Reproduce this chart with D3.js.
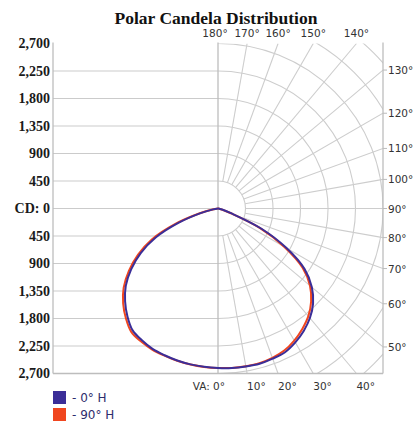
<!DOCTYPE html>
<html>
<head>
<meta charset="utf-8">
<script src="https://cdn.jsdelivr.net/npm/d3@7"></script>
<style>
  html, body { margin: 0; padding: 0; background: #fff; }
  svg { display: block; }
</style>
</head>
<body>
<svg id="chart" width="416" height="423"></svg>
<script>
// Vertical angles (deg): negative = left half of the plane, positive = right half
const verticalAngles = [-90, -85, -80, -75, -70, -65, -60, -55, -50, -45, -40, -35, -30, -25, -20, -15, -10, -5,
  0, 5, 10, 15, 20, 25, 30, 35, 40, 45, 50, 55, 60, 65, 70, 75, 80, 85, 90];

// Candela values for each horizontal plane
const candela0H = [0, 0, 80, 295, 690, 1125, 1460, 1735, 1970, 2150, 2305, 2435, 2490, 2535, 2555, 2575, 2590, 2600,
  2610, 2620, 2625, 2630, 2615, 2595, 2530, 2445, 2340, 2200, 2005, 1730, 1295, 785, 225, 80, 20, 5, 0];
const candela90H = [0, 0, 90, 320, 750, 1190, 1510, 1780, 2015, 2195, 2345, 2470, 2515, 2548, 2562, 2580, 2592, 2602,
  2610, 2618, 2620, 2620, 2600, 2565, 2495, 2405, 2300, 2155, 1965, 1690, 1250, 760, 215, 75, 20, 5, 0];

const seriesNames = ["- 0\u00B0 H", "- 90\u00B0 H"];
const seriesColors = ["#3b2e98", "#f0461f"];

// Candela axis levels and polar grid angles
const candelaLevels = [0, 450, 900, 1350, 1800, 2250, 2700];
const gridAngles = [10, 20, 30, 40, 50, 60, 70, 80, 90, 100, 110, 120, 130, 140, 150, 160, 170];

const svg = d3.select("#chart");

const cx = 218, cy = 208.5;
const R = 165;
const plotL = cx - R, plotR = cx + R, plotT = cy - R, plotB = cy + R;

const r = d3.scaleLinear().domain([0, 2700]).range([0, R]);
const fmt = d3.format(",");

// Title
svg.append("text")
  .attr("x", 216).attr("y", 24)
  .attr("text-anchor", "middle")
  .style("font-family", "'Liberation Serif', serif")
  .style("font-weight", "bold")
  .style("font-size", "17.5px")
  .attr("fill", "#111")
  .text("Polar Candela Distribution");

// Left half: horizontal candela grid lines and labels
const cdRows = [];
candelaLevels.forEach(v => {
  if (v === 0) cdRows.push({ v, y: cy, label: "CD: 0" });
  else {
    cdRows.push({ v, y: cy - r(v), label: fmt(v) });
    cdRows.push({ v, y: cy + r(v), label: fmt(v) });
  }
});

svg.append("g").selectAll("line")
  .data(cdRows.filter(d => d.y > plotT + 1))
  .join("line")
  .attr("x1", plotL).attr("x2", cx)
  .attr("y1", d => d.y).attr("y2", d => d.y)
  .attr("stroke", "#cbcbcb").attr("stroke-width", 1.2);

svg.append("g").selectAll("text")
  .data(cdRows)
  .join("text")
  .attr("x", 50).attr("y", d => d.y + 4.5)
  .attr("text-anchor", "end")
  .style("font-family", "'Liberation Serif', serif")
  .style("font-weight", "bold")
  .style("font-size", "14px")
  .attr("fill", "#1a1a1a")
  .text(d => d.label);

// Right half: polar grid clipped to the plot square
svg.append("defs").append("clipPath").attr("id", "plotClip")
  .append("rect").attr("x", cx).attr("y", plotT).attr("width", plotR - cx).attr("height", plotB - plotT);

const polar = svg.append("g").attr("clip-path", "url(#plotClip)");

const arcLevels = [450, 900, 1350, 1800, 2250, 2700, 3150, 3600];
const arcGen = d3.arc().startAngle(0).endAngle(Math.PI);
polar.selectAll("path.arc")
  .data(arcLevels)
  .join("path")
  .attr("class", "arc")
  .attr("transform", `translate(${cx},${cy})`)
  .attr("d", v => arcGen({ innerRadius: r(v), outerRadius: r(v) }))
  .attr("fill", "none")
  .attr("stroke", "#cdcdcd").attr("stroke-width", 1.1);

// Where a ray from the centre leaves the plot square
function rayEnd(deg) {
  const a = deg * Math.PI / 180;
  const sx = Math.sin(a), sy = Math.cos(a);
  let t = (plotR - cx) / sx;
  if (sy > 1e-9) t = Math.min(t, (plotB - cy) / sy);
  if (sy < -1e-9) t = Math.min(t, (cy - plotT) / -sy);
  return { x: cx + t * sx, y: cy + t * sy, sx, sy };
}

const r0 = r(450);
polar.selectAll("line.ray")
  .data(gridAngles)
  .join("line")
  .attr("class", "ray")
  .attr("x1", d => cx + r0 * Math.sin(d * Math.PI / 180))
  .attr("y1", d => cy + r0 * Math.cos(d * Math.PI / 180))
  .attr("x2", d => rayEnd(d).x)
  .attr("y2", d => rayEnd(d).y)
  .attr("stroke", "#cdcdcd").attr("stroke-width", 1.1);

// Frame: left edge, centre axis, right edge, bottom edge
const frame = svg.append("g").attr("stroke", "#bdbdbd").attr("stroke-width", 1.3);
frame.append("line").attr("x1", plotL).attr("x2", plotL).attr("y1", plotT - 1).attr("y2", plotB);
frame.append("line").attr("x1", cx).attr("x2", cx).attr("y1", plotT - 1).attr("y2", plotB);
frame.append("line").attr("x1", plotR).attr("x2", plotR).attr("y1", plotT - 1).attr("y2", plotB);
frame.append("line").attr("x1", plotL).attr("x2", plotR).attr("y1", plotB).attr("y2", plotB);

// Angle labels around the polar half
const angleStyle = sel => sel
  .style("font-family", "'DejaVu Sans', sans-serif")
  .style("font-size", "10.5px")
  .attr("fill", "#333");

gridAngles.forEach(deg => {
  const e = rayEnd(deg);
  const label = deg + "\u00B0";
  if (Math.abs(e.x - plotR) < 0.5) {
    svg.append("line").attr("x1", plotR).attr("x2", plotR + 4)
      .attr("y1", e.y).attr("y2", e.y).attr("stroke", "#bbb");
    svg.append("text").attr("x", plotR + 5).attr("y", e.y + 4).text(label).call(angleStyle);
  } else if (e.y > cy) {
    svg.append("text").attr("x", e.x).attr("y", plotB + 16).text(label).call(angleStyle);
  } else {
    svg.append("text").attr("x", e.x).attr("y", plotT - 7)
      .attr("text-anchor", "middle").text(label).call(angleStyle);
  }
});
svg.append("text").attr("x", cx - 3).attr("y", plotT - 7)
  .attr("text-anchor", "middle").text("180\u00B0").call(angleStyle);
svg.append("text").attr("x", cx + 7).attr("y", plotB + 16)
  .attr("text-anchor", "end").text("VA: 0\u00B0").call(angleStyle);

// Candela curves
const radial = d3.lineRadial()
  .angle(d => Math.PI - d.va * Math.PI / 180)
  .radius(d => r(d.cd))
  .curve(d3.curveCatmullRom.alpha(0.5));

const series = [candela0H, candela90H].map((vals, i) => ({
  name: seriesNames[i],
  color: seriesColors[i],
  points: verticalAngles.map((va, j) => ({ va, cd: vals[j] }))
}));

svg.append("g").attr("transform", `translate(${cx},${cy})`)
  .selectAll("path")
  .data(series.slice().reverse())
  .join("path")
  .attr("d", d => radial(d.points))
  .attr("fill", "none")
  .attr("stroke", d => d.color)
  .attr("stroke-width", 2)
  .attr("stroke-linejoin", "round");

// Legend
const legend = svg.append("g").selectAll("g")
  .data(series)
  .join("g")
  .attr("transform", (d, i) => `translate(53, ${391 + i * 17})`);
legend.append("rect").attr("width", 13).attr("height", 13).attr("fill", d => d.color);
legend.append("text").attr("x", 19).attr("y", 11)
  .style("font-family", "'DejaVu Sans', sans-serif")
  .style("font-size", "12px")
  .attr("fill", "#2e2c6c")
  .text(d => d.name);
</script>
</body>
</html>
